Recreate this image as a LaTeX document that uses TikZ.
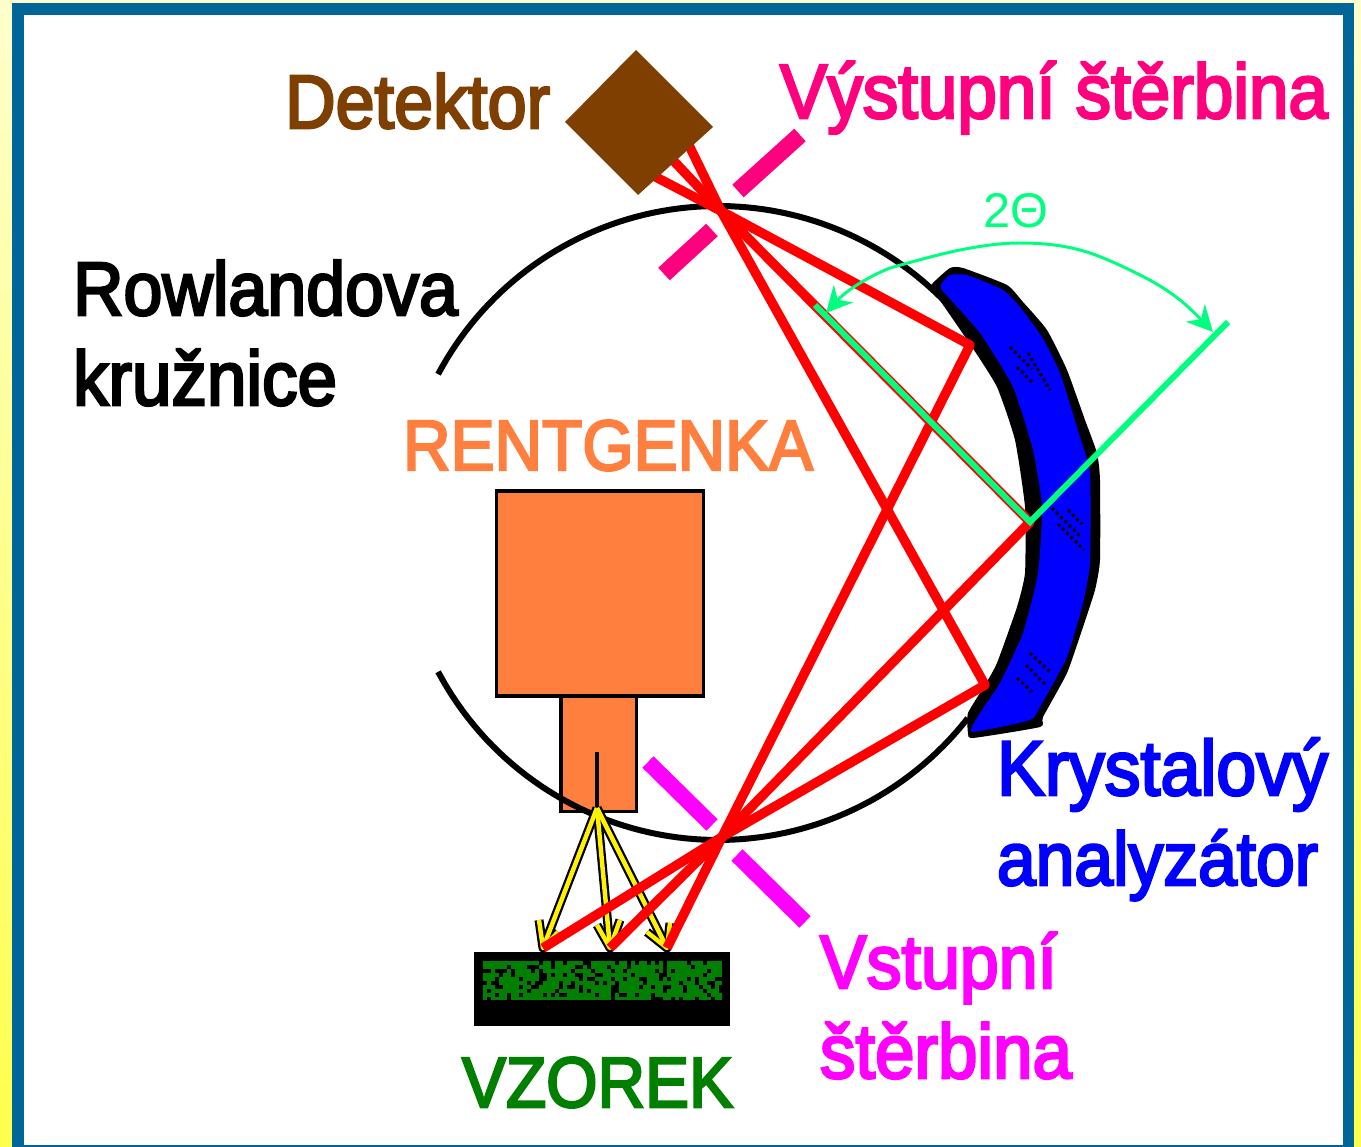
\documentclass[tikz,border=0pt]{standalone}
\usepackage{fontspec}
\setmainfont{Liberation Sans}
\newfontfamily\labfont[FakeBold=3.5]{Liberation Sans}
\usetikzlibrary{arrows.meta}
\definecolor{frameblue}{HTML}{006699}
\definecolor{xorange}{HTML}{FF7F3F}
\definecolor{xbrown}{HTML}{7F3F00}
\definecolor{xpink}{HTML}{FF007F}
\definecolor{xmag}{HTML}{FF00FF}
\definecolor{xgreen}{HTML}{007F00}
\definecolor{xmint}{HTML}{00FF7F}
\definecolor{xblue}{HTML}{0000FF}
\definecolor{xred}{HTML}{FF0000}
\newcommand{\lab}[2]{\scalebox{1}[1.08]{\resizebox{#1pt}{!}{\fontsize{80pt}{80pt}\labfont\selectfont #2}}}
\tikzset{
  ray/.style={xred,line width=9.5pt,line join=round},
  slitA/.style={xpink,line width=17pt},
  slitB/.style={xmag,line width=16pt},
  mint/.style={xmint,line width=6pt},
  rowland/.style={black,line width=6pt},
  box/.style={fill=xorange,draw=black,line width=3.5pt,inner sep=0pt,outer sep=0pt,anchor=north west},
  lbl/.style={anchor=base west,inner sep=0pt,outer sep=0pt},
  hatch/.style={black,line width=3pt,dash pattern=on 3pt off 3pt},
  arrblack/.style={black,line width=9pt,line join=round},
  arryel/.style={yellow,line width=4.5pt,line join=round},
  angleline/.style={xmint,line width=3pt},
}
\begin{document}
\begin{tikzpicture}[x=1pt,y=-1pt]
\useasboundingbox (0,0) rectangle (1361,1147);
% background
\shade[top color=yellow!20!white,bottom color=yellow!70!white] (0,0) rectangle (1361,1147);
\fill[frameblue] (12,3) rectangle (1354,1147);
\fill[white] (24,15) rectangle (1343,1145);
% named points
\coordinate (F1) at (721,211);
\coordinate (F2) at (722,837);
\coordinate (S1) at (543,948);
\coordinate (S2) at (610,948);
\coordinate (S3) at (667,948);
\coordinate (C1) at (970,345);
\coordinate (C2) at (1030,522);
\coordinate (C3) at (985,685);
\coordinate (D1) at (650,174);
\coordinate (D2) at (670,157);
\coordinate (D3) at (684,135);
\coordinate (G0) at (815,305);
\coordinate (G1) at (1228,322);
\coordinate (T0) at (597,808);
% crystal
\fill[black] plot[smooth cycle,tension=0.3] coordinates {(933,283) (950,268) (963,268) (1007,285) (1023,302) (1047,330) (1067,370) (1085,420) (1097,453) (1100,480) (1100,560) (1095,590) (1083,627) (1067,673) (1043,717) (1040,727) (973,738) (968,733) (968,713) (985,685) (997,663) (1017,607) (1025,573) (1025,507) (1015,440) (997,387) (972,347) (933,290)};
\fill[xblue] plot[smooth cycle,tension=0.3] coordinates {(942,283) (950,275) (967,275) (1003,290) (1020,307) (1042,337) (1060,373) (1080,437) (1090,473) (1090,563) (1083,603) (1067,657) (1040,707) (1030,720) (972,732) (980,713) (1000,683) (1023,633) (1038,573) (1042,507) (1033,450) (1013,387) (980,333) (942,290)};
\draw[hatch] (1010,347) -- (1032,369);
\draw[hatch] (1017,367) -- (1032,382);
\draw[hatch] (1028,353) -- (1050,390);
\draw[hatch] (1052,508) -- (1080,536);
\draw[hatch] (1058,524) -- (1084,550);
\draw[hatch] (1068,510) -- (1082,524);
\draw[hatch] (1030,653) -- (1050,672);
\draw[hatch] (1026,665) -- (1046,685);
\draw[hatch] (1017,678) -- (1032,692);
% x-ray tube
\node[box,minimum width=207pt,minimum height=205pt] (tube) at (496.5,491) {};
\node[box,minimum width=75.5pt,minimum height=115.5pt] (nozzle) at (561,696) {};
\draw[black,line width=3.5pt] (597,752) -- (T0);
% Rowland circle
\draw[rowland] plot[domain=208:316,samples=70] ({718+317*cos(\x)},{523+317*sin(\x)});
\draw[rowland] plot[domain=152:38,samples=70] ({718+317*cos(\x)},{523+317*sin(\x)});
% slits
\draw[slitA] (738,191) -- (800,135);
\draw[slitA] (664,274) -- (712,230);
\draw[slitB] (648,762) -- (712,825);
\draw[slitB] (737,855) -- (805,922);
% primary beam arrows
\foreach \tip/\ax/\ay/\bx/\by in {S1/539/920/558/932,S2/597/925/620/920,S3/647/932/670/923}{
  \draw[arrblack] (T0) -- (\tip);
  \draw[arrblack] (\ax,\ay) -- (\tip) -- (\bx,\by);
}
\foreach \tip/\ax/\ay/\bx/\by in {S1/539/920/558/932,S2/597/925/620/920,S3/647/932/670/923}{
  \draw[arryel] (T0) -- (\tip);
  \draw[arryel] (\ax,\ay) -- (\tip) -- (\bx,\by);
}
% sample
\fill[black] (474,952) rectangle (730,1026);
\fill[xgreen] (483,961) rectangle (722,1000);
\pgfmathsetseed{42}
\foreach \i in {0,...,59}{
  \foreach \j in {0,...,9}{
    \pgfmathparse{rnd<0.22?1:0}
    \ifnum\pgfmathresult>0\relax
      \fill[black] ({483+4*\i},{961+4*\j}) rectangle ++(4,4);
    \fi
  }
}
% rays
\draw[ray] (S1) -- (F2) -- (C3) -- (F1) -- (D3);
\draw[ray] (S2) -- (F2) -- (C2) -- (F1) -- (D2);
\draw[ray] (S3) -- (F2) -- (C1) -- (F1) -- (D1);
% detector
\fill[xbrown] (636,50) -- (713,127) -- (638,195) -- (565,122) -- cycle;
% construction
\draw[mint] (G0) -- (C2) -- (G1);
\draw[angleline,-{Stealth[length=26pt,width=26pt]}] plot[smooth,tension=0.6] coordinates {(890,268) (960,250) (1020,243) (1080,250) (1140,275) (1180,300) (1213,332)};
\draw[angleline,-{Stealth[length=26pt,width=26pt]}] (890,268) .. controls (865,278) and (845,292) .. (826,313);
% labels
\node[lbl,text=xbrown] (det) at (285,128) {\lab{265}{Detektor}};
\node[lbl,text=xpink] (vys) at (780,118) {\lab{548}{Výstupní štěrbina}};
\node[lbl,text=black] (row) at (73,315) {\lab{385}{Rowlandova}};
\node[lbl,text=black] (kru) at (73,405) {\lab{264}{kružnice}};
\node[lbl,text=xorange] (ren) at (403,470) {\lab{410}{RENTGENKA}};
\node[lbl,text=xblue] (kry) at (997,795) {\lab{331}{Krystalový}};
\node[lbl,text=xblue] (ana) at (997,885) {\lab{321}{analyzátor}};
\node[lbl,text=xmag] (vst) at (820,988) {\lab{237}{Vstupní}};
\node[lbl,text=xmag] (ste) at (820,1078) {\lab{252}{štěrbina}};
\node[lbl,text=xgreen] (vzo) at (462,1107) {\lab{271}{VZOREK}};
\node[lbl,text=xmint] (tt) at (983,228) {\resizebox{65pt}{!}{\fontsize{50pt}{50pt}\selectfont 2Θ}};
\end{tikzpicture}
\end{document}
